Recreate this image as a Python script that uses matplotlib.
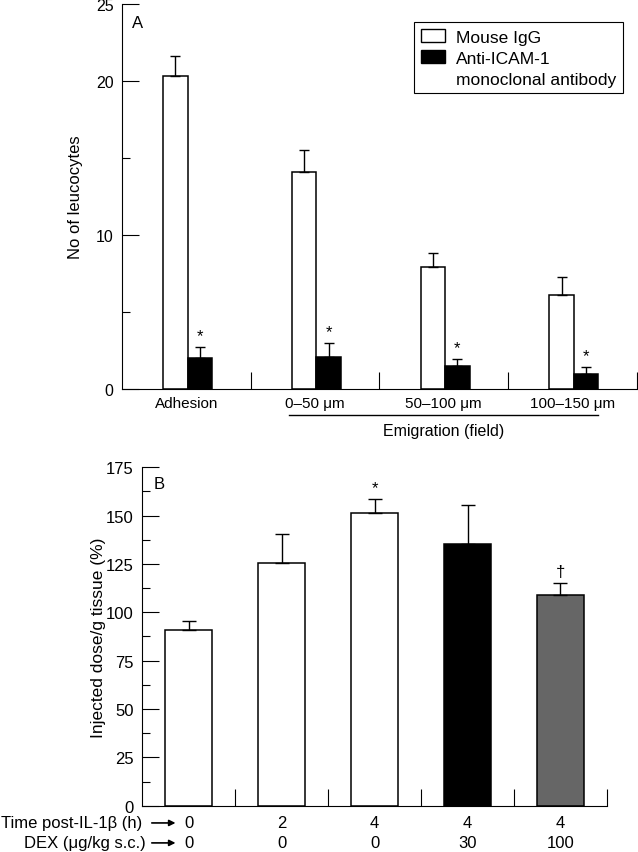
import matplotlib
matplotlib.use("Agg")
import matplotlib.pyplot as plt
import numpy as np
from matplotlib.patches import Patch

plt.rcParams['font.family'] = ['Liberation Sans', 'DejaVu Sans']
plt.rcParams['font.size'] = 11.5

# panel A data
a_cats = ['Adhesion', '0\u201350 \u03bcm', '50\u2013100 \u03bcm', '100\u2013150 \u03bcm']
a_igg = [20.3, 14.1, 7.9, 6.1]
a_igg_err = [1.3, 1.4, 0.95, 1.15]
a_icam = [2.0, 2.05, 1.5, 1.0]
a_icam_err = [0.7, 0.95, 0.47, 0.42]
a_icam_sig = ['*', '*', '*', '*']

# panel B data
b_vals = [90.9, 125.3, 151.2, 135.3, 109.0]
b_err = [4.8, 15.3, 7.2, 20.2, 6.1]
b_time = ['0', '2', '4', '4', '4']
b_dex = ['0', '0', '0', '30', '100']
b_sig = ['', '', '*', '', '\u2020']
b_colors = ['white', 'white', 'white', 'black', '#666666']

fig = plt.figure(figsize=(6.38, 8.53), dpi=100)

# ---------- panel A ----------
ax = fig.add_axes([0.1912, 0.5428, 0.807, 0.4513])
x = np.arange(len(a_cats))
w = 0.19
ax.bar(x - w / 2 + 0.01, a_igg, w, color='white', edgecolor='black', linewidth=1.1)
ax.bar(x + w / 2 + 0.01, a_icam, w, color='black', edgecolor='black', linewidth=1.1)
ax.errorbar(x - w / 2 + 0.01, a_igg, yerr=[np.zeros(4), a_igg_err], fmt='none',
            ecolor='black', elinewidth=1, capsize=3.5, capthick=1)
ax.errorbar(x + w / 2 + 0.01, a_icam, yerr=[np.zeros(4), a_icam_err], fmt='none',
            ecolor='black', elinewidth=1, capsize=3.5, capthick=1)
for i in range(4):
    ax.text(x[i] + w / 2 + 0.01, a_icam[i] + a_icam_err[i] + 0.25, a_icam_sig[i],
            ha='center', va='bottom', fontsize=12)

ax.set_xlim(-0.5, 3.5)
ax.set_ylim(0, 25)
ax.set_yticks([0, 10, 20, 25])
ax.set_yticks([5, 15], minor=True)
ax.set_xticks(x)
ax.set_xticklabels(a_cats, fontsize=11)
ax.set_xticks([0.5, 1.5, 2.5, 3.5], minor=True)
ax.tick_params(axis='both', which='major', direction='in', length=12, width=0.8)
ax.tick_params(axis='both', which='minor', direction='in', length=6, width=0.8)
ax.tick_params(axis='x', which='major', length=0, pad=5)
ax.tick_params(axis='x', which='minor', length=12)
ax.tick_params(axis='y', which='major', pad=6, labelsize=11.5)
for s in ['top', 'right']:
    ax.spines[s].set_visible(False)
for s in ['left', 'bottom']:
    ax.spines[s].set_linewidth(0.8)
ax.set_ylabel('No of leucocytes', fontsize=12)
ax.yaxis.set_label_coords(-0.076, 0.5)
ax.text(0.031, 0.953, 'A', transform=ax.transAxes, ha='center', va='center', fontsize=12)

# bracket under the emigration groups
trans = ax.get_xaxis_transform()
ax.plot([0.8, 3.2], [-0.0675, -0.0675], color='black', lw=1, transform=trans, clip_on=False)
ax.text(2.0, -0.109, 'Emigration (field)', transform=trans, ha='center', va='center', fontsize=11.5)

# legend, third row is the wrapped part of the second label
handles = [Patch(facecolor='white', edgecolor='black', linewidth=1),
           Patch(facecolor='black', edgecolor='black', linewidth=1),
           Patch(facecolor='none', edgecolor='none')]
leg = ax.legend(handles, ['Mouse IgG', 'Anti-ICAM-1', 'monoclonal antibody'],
                loc='upper right', bbox_to_anchor=(0.973, 0.953), borderaxespad=0,
                fancybox=False, edgecolor='black', framealpha=1, fontsize=12.5,
                handlelength=1.4, handleheight=0.8, handletextpad=0.6,
                borderpad=0.4, labelspacing=0.3)
leg.get_frame().set_linewidth(0.8)

# ---------- panel B ----------
bx = fig.add_axes([0.2226, 0.0543, 0.7288, 0.3967])
xb = np.arange(len(b_vals))
bw = 0.51
bx.bar(xb, b_vals, bw, color=b_colors, edgecolor='black', linewidth=1.1)
bx.errorbar(xb, b_vals, yerr=[np.zeros(5), b_err], fmt='none',
            ecolor='black', elinewidth=1, capsize=5, capthick=1)
for i in range(5):
    if b_sig[i]:
        bx.text(xb[i], b_vals[i] + b_err[i] + 2, b_sig[i], ha='center', va='bottom', fontsize=12)

bx.set_xlim(-0.5, 4.5)
bx.set_ylim(0, 175)
bx.set_yticks(np.arange(0, 176, 25))
bx.set_yticks(np.arange(12.5, 175, 25), minor=True)
bx.set_xticks([])
bx.set_xticks([0.5, 1.5, 2.5, 3.5, 4.5], minor=True)
bx.tick_params(axis='both', which='major', direction='in', length=12, width=0.8, pad=6,
               labelsize=12)
bx.tick_params(axis='both', which='minor', direction='in', length=6, width=0.8)
bx.tick_params(axis='x', which='minor', length=12)
for s in ['top', 'right']:
    bx.spines[s].set_visible(False)
for s in ['left', 'bottom']:
    bx.spines[s].set_linewidth(0.8)
bx.set_ylabel('Injected dose/g tissue (%)', fontsize=12.5)
bx.yaxis.set_label_coords(-0.077, 0.5)
bx.text(0.037, 0.951, 'B', transform=bx.transAxes, ha='center', va='center', fontsize=12)

# two rows of condition labels under the bars
tb = bx.get_xaxis_transform()
for i in range(5):
    bx.text(xb[i], -0.051, b_time[i], transform=tb, ha='center', va='center', fontsize=12)
    bx.text(xb[i], -0.11, b_dex[i], transform=tb, ha='center', va='center', fontsize=12)
bx.text(0.0, -0.051, 'Time post-IL-1\u03b2 (h)', transform=bx.transAxes, ha='right',
        va='center', fontsize=12)
bx.text(0.008, -0.11, 'DEX (\u03bcg/kg s.c.)', transform=bx.transAxes, ha='right',
        va='center', fontsize=12)
for yy in [-0.051, -0.11]:
    bx.annotate('', xy=(0.072, yy), xytext=(0.021, yy), xycoords='axes fraction',
                arrowprops=dict(arrowstyle='-|>', color='black', lw=1.2,
                                mutation_scale=9, shrinkA=0, shrinkB=0))

fig.savefig('out.png', dpi=100)
